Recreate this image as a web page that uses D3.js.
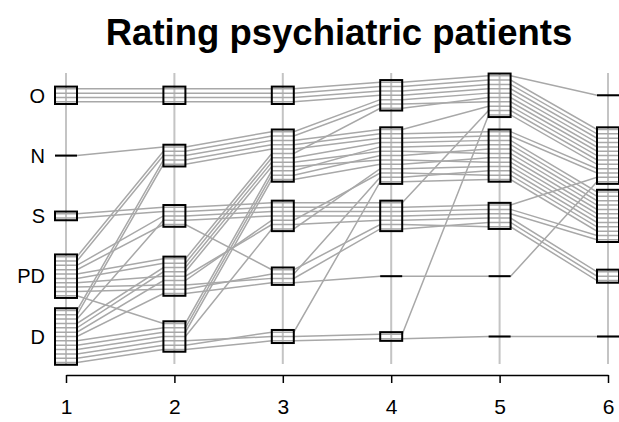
<!DOCTYPE html>
<html>
<head>
<meta charset="utf-8">
<script src="https://cdn.jsdelivr.net/npm/d3@7"></script>
<style>
  body { margin: 0; background: #fff; }
  text { font-family: "Liberation Sans", Arial, Helvetica, sans-serif; }
</style>
</head>
<body>
<svg id="chart" width="619" height="422"></svg>
<script>
// raters on the x axis, diagnostic categories on the y axis (bottom to top)
var raters = [1, 2, 3, 4, 5, 6];
var categories = ["D", "PD", "S", "N", "O"];

// one entry per patient (30 patients), the category each rater gave
var rater1 = ["O","O","O","O","N","S","S","PD","PD","PD","PD","PD","PD","PD","PD","PD","PD","D","D","D","D","D","D","D","D","D","D","D","D","D"];
var rater2 = ["O","O","O","O","N","S","S","PD","PD","PD","PD","PD","N","N","S","S","D","D","D","D","D","D","D","PD","PD","PD","PD","N","N","S"];
var rater3 = ["O","O","O","O","N","S","S","PD","PD","N","N","S","N","N","S","PD","N","D","D","D","N","N","S","PD","N","N","S","N","N","S"];
var rater4 = ["O","O","O","O","O","S","S","S","N","O","N","S","O","N","S","S","N","D","D","N","N","N","N","PD","N","N","N","N","N","S"];
var rater5 = ["O","O","O","O","O","O","S","S","N","O","N","S","O","O","S","S","N","O","D","N","N","N","N","PD","N","N","N","N","N","S"];
var rater6 = ["O","N","N","N","N","N","N","PD","S","N","S","PD","N","N","S","PD","S","N","D","S","S","S","S","N","S","S","S","N","N","S"];

var ratings = [rater1, rater2, rater3, rater4, rater5, rater6];
var nP = rater1.length;

var svg = d3.select("#chart");

var x = d3.scaleLinear().domain([1, 6]).range([66, 608]);
var y = d3.scalePoint().domain(categories).range([336.5, 95.3]);

var step = 4.35,   // vertical gap between patients inside a box
    boxW = 22;

// patients grouped per rater and category; order inside a box is refined below
var order = ratings.map(function(r) {
    var m = new Map();
    categories.forEach(function(c) {
        var ps = d3.range(nP).filter(function(p) { return r[p] == c; });
        if (ps.length) m.set(c, ps);
    });
    return m;
});

var pos = ratings.map(function() { return new Array(nP); });

function place(j) {
    order[j].forEach(function(ps, c) {
        var n = ps.length;
        ps.forEach(function(p, i) {
            pos[j][p] = y(c) - (n - 1) / 2 * step + i * step;
        });
    });
}
raters.forEach(function(r, j) { place(j); });

// barycenter sweeps so lines inside a box cross as little as possible
function sweep(j) {
    order[j].forEach(function(ps) {
        var key = new Map();
        ps.forEach(function(p, i) {
            var s = 0, k = 0;
            if (j > 0) { s += pos[j - 1][p]; k++; }
            if (j < raters.length - 1) { s += pos[j + 1][p]; k++; }
            key.set(p, s / k + i * 1e-4);
        });
        ps.sort(function(a, b) { return key.get(a) - key.get(b); });
    });
    place(j);
}
for (var it = 0; it < 10; it++) {
    for (var j = 0; j < raters.length; j++) sweep(j);
    for (var j = raters.length - 1; j >= 0; j--) sweep(j);
}

// title
svg.append("text")
    .attr("x", 339)
    .attr("y", 45)
    .attr("text-anchor", "middle")
    .style("font-size", "36.5px")
    .style("font-weight", "bold")
    .text("Rating psychiatric patients");

// vertical guides
svg.selectAll(".guide")
    .data(raters)
    .enter().append("line")
    .attr("class", "guide")
    .attr("x1", function(d) { return x(d); })
    .attr("x2", function(d) { return x(d); })
    .attr("y1", 73)
    .attr("y2", 364)
    .attr("stroke", "#c4c4c4")
    .attr("stroke-width", 2);

// one line per patient, flat across each box
var line = d3.line()
    .x(function(d) { return d[0]; })
    .y(function(d) { return d[1]; });

svg.selectAll(".patient")
    .data(d3.range(nP))
    .enter().append("path")
    .attr("class", "patient")
    .attr("fill", "none")
    .attr("stroke", "#a8a8a8")
    .attr("stroke-width", 1.5)
    .attr("d", function(p) {
        var pts = [];
        raters.forEach(function(r, j) {
            pts.push([x(r) - boxW / 2, pos[j][p]]);
            pts.push([x(r) + boxW / 2, pos[j][p]]);
        });
        return line(pts);
    });

// boxes sized by number of patients in each category
var boxes = [];
raters.forEach(function(r, j) {
    order[j].forEach(function(ps, c) {
        boxes.push({ rater: r, cat: c, n: ps.length });
    });
});

svg.selectAll(".box")
    .data(boxes.filter(function(d) { return d.n > 1; }))
    .enter().append("rect")
    .attr("class", "box")
    .attr("x", function(d) { return x(d.rater) - boxW / 2; })
    .attr("y", function(d) { return y(d.cat) - d.n * step / 2; })
    .attr("width", boxW)
    .attr("height", function(d) { return d.n * step; })
    .attr("fill", "none")
    .attr("stroke", "#000")
    .attr("stroke-width", 2);

svg.selectAll(".single")
    .data(boxes.filter(function(d) { return d.n == 1; }))
    .enter().append("line")
    .attr("class", "single")
    .attr("x1", function(d) { return x(d.rater) - boxW / 2; })
    .attr("x2", function(d) { return x(d.rater) + boxW / 2; })
    .attr("y1", function(d) { return y(d.cat); })
    .attr("y2", function(d) { return y(d.cat); })
    .attr("stroke", "#000")
    .attr("stroke-width", 2);

// category labels
svg.selectAll(".ylab")
    .data(categories)
    .enter().append("text")
    .attr("class", "ylab")
    .attr("x", 45)
    .attr("y", function(d) { return y(d); })
    .attr("dy", "0.36em")
    .attr("text-anchor", "end")
    .style("font-size", "20px")
    .text(function(d) { return d; });

// x axis
var xAxis = svg.append("g")
    .attr("transform", "translate(0,375)")
    .call(d3.axisBottom(x).tickValues(raters).tickFormat(d3.format("d"))
        .tickSize(8).tickSizeOuter(0).tickPadding(16));

xAxis.select(".domain").attr("stroke-width", 1.5);
xAxis.selectAll(".tick line").attr("stroke-width", 1.5);
xAxis.selectAll(".tick text")
    .style("font-size", "21px")
    .style("font-family", "'Liberation Sans', Arial, sans-serif")
    .attr("fill", "#000");
</script>
</body>
</html>
